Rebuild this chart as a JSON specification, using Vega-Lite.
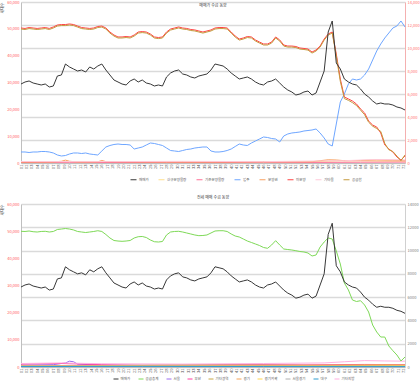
{
"$schema": "https://vega.github.io/schema/vega-lite/v6.json",
"padding": 0,
"background": "white",
"spacing": 14,
"config": {"view": {"stroke": null}, "font": "Noto Sans CJK KR", "line": {"strokeWidth": 1}},
"resolve": {"scale": {"color": "independent"}, "legend": {"color": "independent"}},
"datasets": {
"main": [
{"t":0,"매매가":29440,"미분양":11740,"공급합":11650,"입주":957,"공급총계":11655},
{"t":1,"매매가":30190,"미분양":11700,"공급합":11610,"입주":957,"공급총계":11640},
{"t":2,"매매가":30560,"미분양":11780,"공급합":11690,"입주":913,"공급총계":11680},
{"t":3,"매매가":29810,"미분양":11740,"공급합":11650,"입주":957,"공급총계":11620},
{"t":4,"매매가":29440,"미분양":11700,"공급합":11610,"입주":957,"공급총계":11595},
{"t":5,"매매가":29070,"미분양":11740,"공급합":11650,"입주":1000,"공급총계":11640},
{"t":6,"매매가":29440,"미분양":11780,"공급합":11690,"입주":1000,"공급총계":11655},
{"t":7,"매매가":28320,"미분양":11700,"공급합":11610,"입주":957,"공급총계":11595},
{"t":8,"매매가":28700,"미분양":11830,"공급합":11740,"입주":870,"공급총계":11640},
{"t":9,"매매가":32420,"미분양":12000,"공급합":11910,"입주":696,"공급총계":11810},
{"t":10,"매매가":32800,"미분양":12040,"공급합":11950,"입주":609,"공급총계":11850},
{"t":11,"매매가":36890,"미분양":12040,"공급합":11950,"입주":652,"공급총계":11895},
{"t":12,"매매가":35780,"미분양":12090,"공급합":12000,"입주":783,"공급총계":11850},
{"t":13,"매매가":35030,"미분양":12040,"공급합":11950,"입주":870,"공급총계":11770},
{"t":14,"매매가":34290,"미분양":11910,"공급합":11820,"입주":870,"공급총계":11640},
{"t":15,"매매가":34660,"미분양":11780,"공급합":11690,"입주":826,"공급총계":11595},
{"t":16,"매매가":33910,"미분양":11740,"공급합":11650,"입주":870,"공급총계":11550},
{"t":17,"매매가":35780,"미분양":11700,"공급합":11610,"입주":783,"공급총계":11595},
{"t":18,"매매가":35030,"미분양":11740,"공급합":11650,"입주":739,"공급총계":11640},
{"t":19,"매매가":36150,"미분양":11870,"공급합":11780,"입주":696,"공급총계":11705},
{"t":20,"매매가":36890,"미분양":11910,"공급합":11820,"입주":1044,"공급총계":11640},
{"t":21,"매매가":34660,"미분양":11740,"공급합":11650,"입주":1391,"공급총계":11380},
{"t":22,"매매가":32800,"미분양":11390,"공급합":11300,"입주":1522,"공급총계":11080},
{"t":23,"매매가":30930,"미분양":11130,"공급합":11040,"입주":1609,"공급총계":10865},
{"t":24,"매매가":30190,"미분양":10960,"공급합":10870,"입주":1652,"공급총계":10820},
{"t":25,"매매가":29440,"미분양":10960,"공급합":10870,"입주":1609,"공급총계":10795},
{"t":26,"매매가":29070,"미분양":11000,"공급합":10910,"입주":1609,"공급총계":10820},
{"t":27,"매매가":30560,"미분양":10960,"공급합":10870,"입주":1565,"공급총계":10865},
{"t":28,"매매가":31300,"미분양":11130,"공급합":11040,"입주":1217,"공급총계":11080},
{"t":29,"매매가":30190,"미분양":11390,"공급합":11300,"입주":1304,"공급총계":11190},
{"t":30,"매매가":30930,"미분양":11430,"공급합":11340,"입주":1391,"공급총계":11210},
{"t":31,"매매가":29810,"미분양":11390,"공급합":11300,"입주":1565,"공급총계":11120},
{"t":32,"매매가":29440,"미분양":11220,"공급합":11130,"입주":1739,"공급총계":10910},
{"t":33,"매매가":28700,"미분양":10960,"공급합":10870,"입주":1696,"공급총계":10760},
{"t":34,"매매가":29070,"미분양":10910,"공급합":10820,"입주":1609,"공급총계":10735},
{"t":35,"매매가":28700,"미분양":10960,"공급합":10870,"입주":1522,"공급총계":10780},
{"t":36,"매매가":32050,"미분양":11390,"공급합":11300,"입주":1304,"공급총계":11340},
{"t":37,"매매가":33540,"미분양":11650,"공급합":11560,"입주":1087,"공급총계":11595},
{"t":38,"매매가":34290,"미분양":11740,"공급합":11650,"입주":1044,"공급총계":11640},
{"t":39,"매매가":34660,"미분양":11830,"공급합":11740,"입주":1000,"공급총계":11655},
{"t":40,"매매가":33170,"미분양":11740,"공급합":11650,"입주":1087,"공급총계":11595},
{"t":41,"매매가":32800,"미분양":11700,"공급합":11610,"입주":1174,"공급총계":11510},
{"t":42,"매매가":32050,"미분양":11610,"공급합":11520,"입주":1217,"공급총계":11425},
{"t":43,"매매가":31680,"미분양":11570,"공급합":11480,"입주":1304,"공급총계":11340},
{"t":44,"매매가":32420,"미분양":11480,"공급합":11390,"입주":1348,"공급총계":11280},
{"t":45,"매매가":32800,"미분양":11390,"공급합":11300,"입주":1391,"공급총계":11295},
{"t":46,"매매가":33170,"미분양":11480,"공급합":11390,"입주":1391,"공급총계":11340},
{"t":47,"매매가":34660,"미분양":11570,"공급합":11480,"입주":1044,"공급총계":11510},
{"t":48,"매매가":36890,"미분양":11740,"공급합":11650,"입주":957,"공급총계":11680},
{"t":49,"매매가":36520,"미분양":11780,"공급합":11690,"입주":957,"공급총계":11705},
{"t":50,"매매가":36150,"미분양":11780,"공급합":11690,"입주":1000,"공급총계":11705},
{"t":51,"매매가":35030,"미분양":11740,"공급합":11650,"입주":1087,"공급총계":11640},
{"t":52,"매매가":33540,"미분양":11390,"공급합":11300,"입주":1217,"공급총계":11425},
{"t":53,"매매가":32420,"미분양":11040,"공급합":10950,"입주":1435,"공급총계":11250},
{"t":54,"매매가":31300,"미분양":10780,"공급합":10690,"입주":1652,"공급총계":11165},
{"t":55,"매매가":31680,"미분양":10870,"공급합":10780,"입주":1565,"공급총계":10995},
{"t":56,"매매가":32050,"미분양":11000,"공급합":10910,"입주":1522,"공급총계":10820},
{"t":57,"매매가":31300,"미분양":10960,"공급합":10870,"입주":1739,"공급총계":10695},
{"t":58,"매매가":30190,"미분양":10700,"공급합":10610,"입주":1913,"공급총계":10565},
{"t":59,"매매가":29440,"미분양":10520,"공급합":10430,"입주":2087,"공급총계":10435},
{"t":60,"매매가":29070,"미분양":10350,"공급합":10260,"입주":2261,"공급총계":10265},
{"t":61,"매매가":30190,"미분양":10350,"공급합":10260,"입주":2217,"공급총계":10195},
{"t":62,"매매가":30560,"미분양":10520,"공급합":10430,"입주":2130,"공급총계":10480},
{"t":63,"매매가":31300,"미분양":10960,"공급합":10870,"입주":2087,"공급총계":10850},
{"t":64,"매매가":29810,"미분양":10700,"공급합":10610,"입주":1826,"공급총계":10480},
{"t":65,"매매가":28320,"미분양":10260,"공급합":10170,"입주":2348,"공급총계":10135},
{"t":66,"매매가":27200,"미분양":10170,"공급합":10080,"입주":2522,"공급총계":10090},
{"t":67,"매매가":26460,"미분양":10170,"공급합":10080,"입주":2609,"공급총계":10050},
{"t":68,"매매가":25340,"미분양":10130,"공급합":10040,"입주":2652,"공급총계":9990},
{"t":69,"매매가":25710,"미분양":10000,"공급합":9910,"입주":2696,"공급총계":9920},
{"t":70,"매매가":26460,"미분양":9960,"공급합":9870,"입주":2783,"공급총계":9880},
{"t":71,"매매가":26830,"미분양":9910,"공급합":9820,"입주":2826,"공급총계":9790},
{"t":72,"매매가":25340,"미분양":9650,"공급합":9560,"입주":2870,"공급총계":9535},
{"t":73,"매매가":26090,"미분양":9830,"공급합":9740,"입주":2957,"공급총계":9620},
{"t":74,"매매가":30190,"미분양":10170,"공급합":10080,"입주":2609,"공급총계":10305},
{"t":75,"매매가":34290,"미분양":10780,"공급합":10690,"입주":2174,"공급총계":10735},
{"t":76,"매매가":48820,"미분양":11220,"공급합":11130,"입주":1652,"공급총계":11080},
{"t":77,"매매가":52920,"미분양":11390,"공급합":11300,"입주":1478,"공급총계":10995},
{"t":78,"매매가":37270,"미분양":9480,"공급합":9300,"입주":3391,"공급총계":9965},
{"t":79,"매매가":35030,"미분양":7300,"공급합":7100,"입주":5305,"공급총계":8845},
{"t":80,"매매가":31300,"미분양":5740,"공급합":5600,"입주":6000,"공급총계":7215},
{"t":81,"매매가":30190,"미분양":5570,"공급합":5450,"입주":6870,"공급총계":6615},
{"t":82,"매매가":29440,"미분양":5390,"공급합":5250,"입주":7305,"공급총계":5755},
{"t":83,"매매가":29070,"미분양":5130,"공급합":5000,"입주":7218,"공급총계":5625},
{"t":84,"매매가":27580,"미분양":4700,"공급합":4600,"입주":7305,"공급총계":5695},
{"t":85,"매매가":25710,"미분양":4350,"공급합":4200,"입주":7652,"공급총계":5325},
{"t":86,"매매가":24600,"미분양":3650,"공급합":3550,"입주":8174,"공급총계":4725},
{"t":87,"매매가":23110,"미분양":3300,"공급합":3200,"입주":8957,"공급총계":3605},
{"t":88,"매매가":21990,"미분양":3130,"공급합":3000,"입주":9740,"공급총계":3005},
{"t":89,"매매가":22360,"미분양":2610,"공급합":2750,"입주":10348,"공급총계":2575},
{"t":90,"매매가":21990,"미분양":1570,"공급합":1700,"입주":10870,"공급총계":2575},
{"t":91,"매매가":21990,"미분양":1220,"공급합":1150,"입주":11305,"공급총계":1805},
{"t":92,"매매가":21610,"미분양":960,"공급합":1000,"입주":11740,"공급총계":1400},
{"t":93,"매매가":20870,"미분양":520,"공급합":600,"입주":11914,"공급총계":1030},
{"t":94,"매매가":20500,"미분양":260,"공급합":200,"입주":12348,"공급총계":515},
{"t":95,"매매가":19750,"미분양":610,"공급합":700,"입주":11827,"공급총계":860}
],
"minorTop": [
{"t":0,"s":"신규분양물량","v":100},{"t":10,"s":"신규분양물량","v":120},{"t":20,"s":"신규분양물량","v":90},{"t":30,"s":"신규분양물량","v":110},{"t":40,"s":"신규분양물량","v":80},{"t":50,"s":"신규분양물량","v":100},{"t":60,"s":"신규분양물량","v":120},{"t":70,"s":"신규분양물량","v":90},{"t":76,"s":"신규분양물량","v":150},{"t":80,"s":"신규분양물량","v":200},{"t":85,"s":"신규분양물량","v":180},{"t":90,"s":"신규분양물량","v":160},{"t":95,"s":"신규분양물량","v":140},
{"t":0,"s":"기존분양물량","v":40},{"t":12,"s":"기존분양물량","v":60},{"t":24,"s":"기존분양물량","v":40},{"t":36,"s":"기존분양물량","v":50},{"t":48,"s":"기존분양물량","v":40},{"t":60,"s":"기존분양물량","v":60},{"t":72,"s":"기존분양물량","v":50},{"t":84,"s":"기존분양물량","v":70},{"t":95,"s":"기존분양물량","v":80},
{"t":0,"s":"분양권","v":80},{"t":8,"s":"분양권","v":90},{"t":10,"s":"분양권","v":150},{"t":11,"s":"분양권","v":250},{"t":12,"s":"분양권","v":150},{"t":14,"s":"분양권","v":90},{"t":19,"s":"분양권","v":100},{"t":20,"s":"분양권","v":220},{"t":21,"s":"분양권","v":120},{"t":30,"s":"분양권","v":90},{"t":45,"s":"분양권","v":80},{"t":60,"s":"분양권","v":100},{"t":72,"s":"분양권","v":110},{"t":74,"s":"분양권","v":200},{"t":76,"s":"분양권","v":280},{"t":78,"s":"분양권","v":260},{"t":80,"s":"분양권","v":200},{"t":84,"s":"분양권","v":220},{"t":88,"s":"분양권","v":260},{"t":92,"s":"분양권","v":240},{"t":95,"s":"분양권","v":220},
{"t":0,"s":"기타물","v":130},{"t":20,"s":"기타물","v":120},{"t":40,"s":"기타물","v":140},{"t":60,"s":"기타물","v":120},{"t":80,"s":"기타물","v":200},{"t":86,"s":"기타물","v":280},{"t":90,"s":"기타물","v":300},{"t":95,"s":"기타물","v":260}
],
"minorBot": [
{"t":0,"s":"서울","v":150},{"t":8,"s":"서울","v":200},{"t":11,"s":"서울","v":350},{"t":12,"s":"서울","v":500},{"t":13,"s":"서울","v":450},{"t":14,"s":"서울","v":250},{"t":20,"s":"서울","v":150},{"t":40,"s":"서울","v":120},{"t":60,"s":"서울","v":150},{"t":80,"s":"서울","v":100},{"t":95,"s":"서울","v":80},
{"t":0,"s":"부산","v":250},{"t":10,"s":"부산","v":300},{"t":20,"s":"부산","v":200},{"t":30,"s":"부산","v":150},{"t":50,"s":"부산","v":200},{"t":70,"s":"부산","v":180},{"t":85,"s":"부산","v":220},{"t":95,"s":"부산","v":200},
{"t":0,"s":"기타광역","v":100},{"t":20,"s":"기타광역","v":120},{"t":40,"s":"기타광역","v":180},{"t":60,"s":"기타광역","v":150},{"t":80,"s":"기타광역","v":120},{"t":95,"s":"기타광역","v":100},
{"t":0,"s":"경기","v":120},{"t":30,"s":"경기","v":100},{"t":50,"s":"경기","v":130},{"t":70,"s":"경기","v":150},{"t":90,"s":"경기","v":200},{"t":95,"s":"경기","v":180},
{"t":0,"s":"경기외곽","v":60},{"t":30,"s":"경기외곽","v":80},{"t":60,"s":"경기외곽","v":70},{"t":90,"s":"경기외곽","v":90},{"t":95,"s":"경기외곽","v":100},
{"t":0,"s":"서울경기","v":80},{"t":40,"s":"서울경기","v":70},{"t":80,"s":"서울경기","v":60},{"t":95,"s":"서울경기","v":50},
{"t":0,"s":"대구","v":40},{"t":30,"s":"대구","v":50},{"t":60,"s":"대구","v":40},{"t":95,"s":"대구","v":30},
{"t":0,"s":"기타지방","v":300},{"t":10,"s":"기타지방","v":350},{"t":20,"s":"기타지방","v":280},{"t":40,"s":"기타지방","v":250},{"t":60,"s":"기타지방","v":300},{"t":75,"s":"기타지방","v":350},{"t":80,"s":"기타지방","v":450},{"t":85,"s":"기타지방","v":550},{"t":90,"s":"기타지방","v":520},{"t":95,"s":"기타지방","v":500}
]
},
"vconcat": [
{
"width": 384, "height": 161,
"title": {"text": "매매가 수급 동향", "fontSize": 4, "fontWeight": "normal", "color": "#404040", "offset": -8, "frame": "group"},
"resolve": {"scale": {"y": "independent"}},
"encoding": {
"x": {"field": "t", "type": "quantitative", "scale": {"domain": [0, 95], "nice": false, "zero": false},
"axis": {"values": [0,1.33,2.67,4,5.33,6.67,8,9.33,10.67,12,13.33,14.67,16,17.33,18.67,20,21.33,22.67,24,25.33,26.67,28,29.33,30.67,32,33.33,34.67,36,37.33,38.67,40,41.33,42.67,44,45.33,46.67,48,49.33,50.67,52,53.33,54.67,56,57.33,58.67,60,61.33,62.67,64,65.33,66.67,68,69.33,70.67,72,73.33,74.67,76,77.33,78.67,80,81.33,82.67,84,85.33,86.67,88,89.33,90.67,92,93.33,94.67], "labelExpr": "format(round(datum.value*0.75)+1,'02d')", "labelAngle": -90, "labelFontSize": 4, "labelColor": "#595959", "labelPadding": 1, "ticks": false, "grid": false, "domainColor": "#bfbfbf", "title": null, "labelOverlap": false, "labelBound": false, "labelFlush": false}}
},
"layer": [
{
"encoding": {
"y": {"field": "v", "type": "quantitative", "scale": {"domain": [0, 14000], "nice": false},
"axis": {"orient": "right", "values": [0,2000,4000,6000,8000,10000,12000,14000], "format": ",d", "grid": true, "gridColor": "#dadada", "gridWidth": 1.5, "ticks": false, "labelFontSize": 4, "labelColor": "#ff7070", "labelPadding": 2, "domainColor": "#f4b0b0", "title": null, "labelOverlap": false}},
"color": {"field": "s", "type": "nominal",
"scale": {"domain": ["매매가","신규분양물량","기존분양물량","입주","분양권","미분양","기타물","공급합"], "range": ["#383838","#ffdf8c","#ff6f96","#6ea6ff","#f8a060","#ff4444","#ffc8d8","#c49a3c"]},
"legend": {"orient": "none", "legendX": 109, "legendY": 174, "direction": "horizontal", "columns": 10, "title": null, "symbolType": "stroke", "symbolSize": 36, "symbolStrokeWidth": 1, "labelFontSize": 3.5, "labelColor": "#595959", "columnPadding": 7, "labelOffset": 2}}
},
"layer": [
{"data": {"name": "minorTop"}, "mark": {"type": "line", "strokeWidth": 1}},
{"data": {"name": "main"}, "transform": [{"fold": ["입주", "미분양", "공급합"], "as": ["s", "v"]}], "mark": {"type": "line", "strokeWidth": 1}}
]},
{"data": {"name": "main"}, "mark": {"type": "line", "strokeWidth": 1},
"encoding": {
"y": {"field": "매매가", "type": "quantitative", "scale": {"domain": [0, 60000], "nice": false},
"axis": {"orient": "left", "values": [0,10000,20000,30000,40000,50000,60000], "format": ",d", "grid": false, "ticks": false, "labelFontSize": 4, "labelColor": "#ff5a5a", "labelPadding": 2, "domainColor": "#bfbfbf", "title": "세대수", "titleFontSize": 4, "titleAnchor": "end", "titleFontWeight": "normal", "titleColor": "#404040", "titlePadding": 2, "labelOverlap": false}},
"color": {"datum": "매매가"}
}}
]
},
{
"width": 384, "height": 163,
"title": {"text": "전세 매매 수급 동향", "fontSize": 4, "fontWeight": "normal", "color": "#404040", "offset": 2, "frame": "group"},
"resolve": {"scale": {"y": "independent"}},
"encoding": {
"x": {"field": "t", "type": "quantitative", "scale": {"domain": [0, 95], "nice": false, "zero": false},
"axis": {"values": [0,1.33,2.67,4,5.33,6.67,8,9.33,10.67,12,13.33,14.67,16,17.33,18.67,20,21.33,22.67,24,25.33,26.67,28,29.33,30.67,32,33.33,34.67,36,37.33,38.67,40,41.33,42.67,44,45.33,46.67,48,49.33,50.67,52,53.33,54.67,56,57.33,58.67,60,61.33,62.67,64,65.33,66.67,68,69.33,70.67,72,73.33,74.67,76,77.33,78.67,80,81.33,82.67,84,85.33,86.67,88,89.33,90.67,92,93.33,94.67], "labelExpr": "format(round(datum.value*0.75)+1,'02d')", "labelAngle": -90, "labelFontSize": 4, "labelColor": "#595959", "labelPadding": 1, "ticks": false, "grid": false, "domainColor": "#bfbfbf", "title": null, "labelOverlap": false, "labelBound": false, "labelFlush": false}}
},
"layer": [
{
"encoding": {
"y": {"field": "v", "type": "quantitative", "scale": {"domain": [0, 14000], "nice": false},
"axis": {"orient": "right", "values": [0,2000,4000,6000,8000,10000,12000,14000], "format": "d", "grid": true, "gridColor": "#dadada", "gridWidth": 1.5, "ticks": false, "labelFontSize": 4, "labelColor": "#808080", "labelPadding": 2, "domainColor": "#d0d0d0", "title": null, "labelOverlap": false}},
"color": {"field": "s", "type": "nominal",
"scale": {"domain": ["매매가","공급총계","서울","부산","기타광역","경기","경기외곽","서울경기","대구","기타지방"], "range": ["#383838","#7ed957","#9b6cf0","#ff3fa0","#c8a848","#f5a55a","#ffd54f","#b0b0b0","#2e9ccf","#ffb0e0"]},
"legend": {"orient": "none", "legendX": 92, "legendY": 172, "direction": "horizontal", "columns": 10, "title": null, "symbolType": "stroke", "symbolSize": 25, "symbolStrokeWidth": 1, "labelFontSize": 3.5, "labelColor": "#595959", "columnPadding": 5, "labelOffset": 1.5}}
},
"layer": [
{"data": {"name": "minorBot"}, "mark": {"type": "line", "strokeWidth": 1}},
{"data": {"name": "main"}, "transform": [{"fold": ["공급총계"], "as": ["s", "v"]}], "mark": {"type": "line", "strokeWidth": 1}}
]},
{"data": {"name": "main"}, "mark": {"type": "line", "strokeWidth": 1},
"encoding": {
"y": {"field": "매매가", "type": "quantitative", "scale": {"domain": [0, 60000], "nice": false},
"axis": {"orient": "left", "values": [0,10000,20000,30000,40000,50000,60000], "format": ",d", "grid": false, "ticks": false, "labelFontSize": 4, "labelColor": "#ff5a5a", "labelPadding": 2, "domainColor": "#bfbfbf", "title": "세대수", "titleFontSize": 4, "titleAnchor": "end", "titleFontWeight": "normal", "titleColor": "#404040", "titlePadding": 2, "labelOverlap": false}},
"color": {"datum": "매매가"}
}}
]
}
]
}
